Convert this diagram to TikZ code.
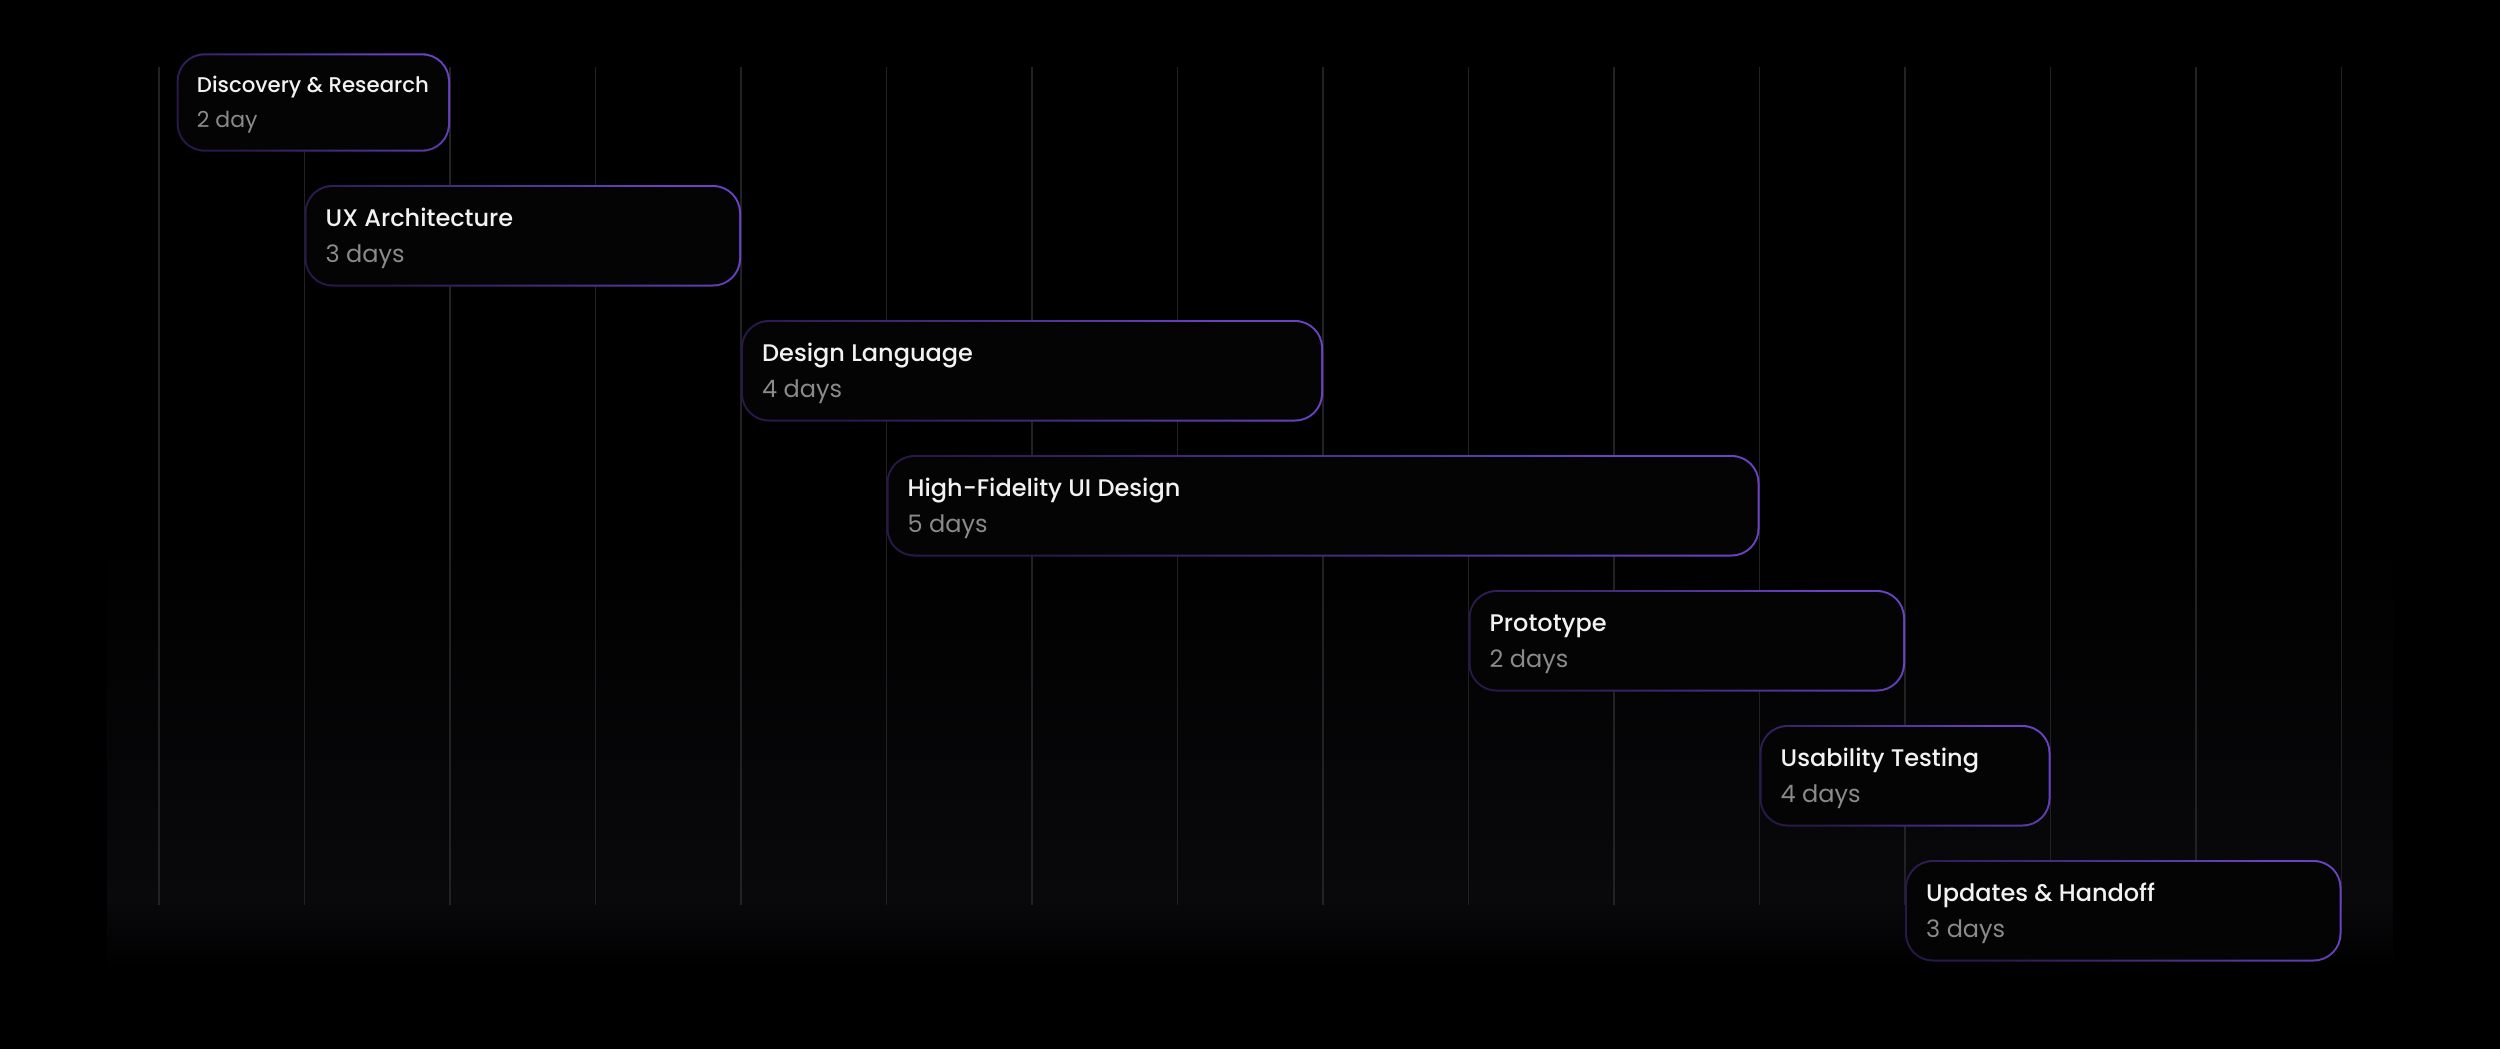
\documentclass[tikz,border=0pt]{standalone}
\usepackage{fontspec}
\setmainfont{Poppins}
\newfontfamily\medfont{Poppins}[UprightFont=* Medium]
\usetikzlibrary{calc}
\definecolor{pbright}{HTML}{6A42C4}
\definecolor{pdark}{HTML}{28194A}
\definecolor{boxfill}{HTML}{040405}
\definecolor{gridc}{HTML}{222225}
\definecolor{glow}{HTML}{09090C}
\definecolor{titlec}{HTML}{F2F2F2}
\definecolor{subc}{HTML}{8A8A8A}
\tikzset{
  boxouter/.style={rectangle, rounded corners=28pt, inner sep=0pt, outer sep=0pt,
    top color=pbright, bottom color=pdark, shading angle=-45, anchor=north west},
  boxinner/.style={rectangle, rounded corners=26pt, inner sep=0pt, outer sep=0pt, fill=boxfill},
  ttl/.style={anchor=base west, inner sep=0pt, text=titlec, font=\medfont\fontsize{24}{24}\selectfont},
  dur/.style={anchor=base west, inner sep=0pt, text=subc, font=\fontsize{24}{24}\selectfont},
  gridline/.style={draw=gridc, line width=1.5pt},
}
\newcommand\gtask[7]{%
  \node[boxouter, minimum width=#4, minimum height=#5] (b#1) at (#2,#3) {};
  \node[boxinner, minimum width=#4-4, minimum height=#5-4] (b#1i) at (b#1.center) {};
  \node[ttl] (t#1) at ($(b#1.north west)+(21,41.5)$) {#6};
  \node[dur] (d#1) at ($(b#1.north west)+(21,77.5)$) {#7};
}
\begin{document}
\begin{tikzpicture}[x=1pt,y=-1pt]
\useasboundingbox (0,0) rectangle (2500,1049);
\fill[black] (0,0) rectangle (2500,1049);
% soft glow panel
\shade[top color=black, bottom color=glow] (107,540) rectangle (2393,900);
\shade[top color=glow, bottom color=black] (107,900) rectangle (2393,968);
% grid lines
\foreach \i in {0,...,15}{
  \draw[gridline] ({159+145.5*\i},67) -- ({159+145.5*\i},905);
}
% task 1 (slightly smaller)
\node[boxouter, minimum width=273.3, minimum height=98.4] (b1) at (176.7,53.3) {};
\node[boxinner, minimum width=269.3, minimum height=94.4] (b1i) at (b1.center) {};
\node[ttl, font=\medfont\fontsize{21.3}{21.3}\selectfont] (t1) at ($(b1.north west)+(20,39.4)$) {Discovery \& Research};
\node[dur, font=\fontsize{22}{22}\selectfont] (d1) at ($(b1.north west)+(20,74)$) {2 day};
\gtask{2}{304.5}{185}{436.5}{101.5}{UX Architecture}{3 days}
\gtask{3}{741}{320}{582}{101.5}{Design Language}{4 days}
\gtask{4}{886.5}{455}{873}{101.5}{High-Fidelity UI Design}{5 days}
\gtask{5}{1468.5}{590}{436.5}{101.5}{Prototype}{2 days}
\gtask{6}{1759.5}{725}{291}{101.5}{Usability Testing}{4 days}
\gtask{7}{1905}{860}{436.5}{101.5}{Updates \& Handoff}{3 days}
\end{tikzpicture}
\end{document}
